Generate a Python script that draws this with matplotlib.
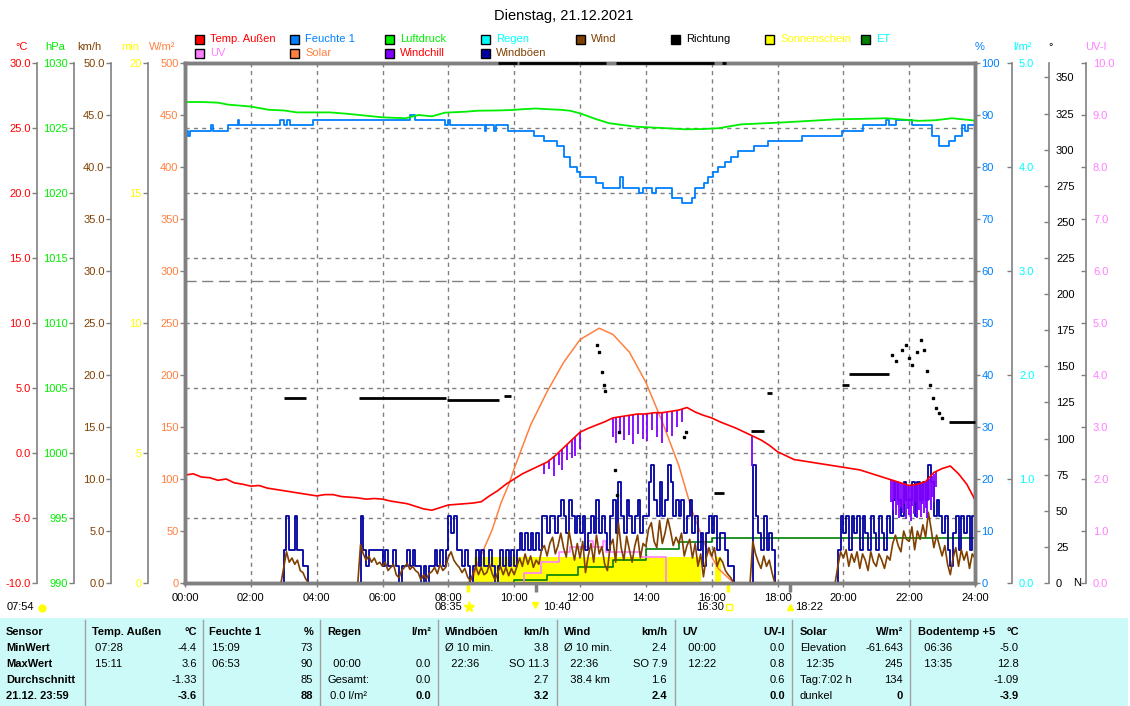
import numpy as np
import matplotlib
matplotlib.use('Agg')
import matplotlib.pyplot as plt
from matplotlib.patches import Rectangle
from matplotlib.lines import Line2D

plt.rcParams['font.family'] = ['Liberation Sans', 'DejaVu Sans']
plt.rcParams['font.size'] = 8

# data =========================================================================
title = 'Dienstag, 21.12.2021'
hour_ticks = list(range(0, 25, 2))
hour_labels = ['%02d:00' % h for h in hour_ticks]

# temperature, every 15 min (degC)
temp_t = np.arange(0, 24.01, 0.25)
temp = [-1.7, -1.6, -1.85, -1.9, -2.1, -2.0, -2.3, -2.4, -2.55, -2.5, -2.7, -2.8,
        -2.9, -3.0, -3.1, -3.2, -3.3, -3.2, -3.2, -3.35, -3.4, -3.45, -3.55, -3.5,
        -3.55, -3.7, -3.8, -3.9, -4.1, -4.3, -4.4, -4.2, -4.0, -3.95, -3.9, -3.85,
        -3.75, -3.3, -2.9, -2.4, -2.0, -1.6, -1.3, -1.0, -0.7, -0.2, 0.4, 1.0,
        1.6, 1.9, 2.15, 2.4, 2.7, 2.8, 2.9, 3.0, 3.0, 3.1, 3.1, 3.2,
        3.3, 3.5, 3.15, 2.9, 2.7, 2.4, 2.15, 1.9, 1.6, 1.3, 1.0, 0.6,
        0.1, -0.2, -0.5, -0.6, -0.7, -0.8, -0.9, -1.0, -1.1, -1.2, -1.3, -1.5,
        -1.7, -1.9, -2.1, -2.3, -2.5, -2.4, -2.2, -1.5, -1.2, -1.0, -1.6, -2.4,
        -3.6]

# windchill dips below temperature: time, windchill, temperature at that moment
wch_t = [10.9, 11.05, 11.2, 11.35, 11.45, 11.6, 11.75, 11.85, 12.0,
         13.0, 13.1, 13.2, 13.35, 13.5, 13.6, 13.75, 13.9, 14.05, 14.2, 14.35,
         14.5, 14.65, 14.8, 14.95, 15.1, 17.22,
         21.45, 21.5, 21.55, 21.6, 21.65, 21.7, 21.75, 21.8, 21.85, 21.9, 21.95, 22.0,
         22.05, 22.1, 22.15, 22.2, 22.25, 22.3, 22.35, 22.4, 22.45, 22.5, 22.55, 22.6,
         22.65, 22.7, 22.75, 22.8]
wch_lo = [-1.6, -1.2, -1.8, -0.9, -1.3, -0.5, -0.4, -0.2, 0.3,
          1.2, 0.8, 1.6, 1.0, 1.4, 0.7, 1.5, 1.1, 0.9, 1.8, 1.2,
          0.8, 1.6, 1.3, 2.0, 2.4, -1.0,
          -3.8, -4.4, -3.5, -4.8, -4.0, -5.0, -4.2, -4.6, -3.9, -5.1, -4.3, -4.8,
          -5.2, -4.1, -4.7, -3.8, -5.0, -4.4, -4.9, -3.9, -4.6, -4.2, -5.0, -3.6,
          -4.4, -3.4, -3.8, -2.6]
wch_hi = [-0.8, -0.6, -0.3, 0.0, 0.3, 0.6, 1.0, 1.2, 1.6,
          2.7, 2.75, 2.8, 2.85, 2.9, 2.95, 3.0, 3.0, 3.0, 3.1, 3.1,
          3.1, 3.15, 3.2, 3.3, 3.4, 1.3,
          -2.0, -2.1, -2.15, -2.2, -2.25, -2.3, -2.3, -2.35, -2.4, -2.45, -2.5, -2.5,
          -2.5, -2.45, -2.45, -2.4, -2.4, -2.35, -2.3, -2.3, -2.25, -2.2, -2.1, -2.0,
          -1.9, -1.75, -1.6, -1.45]

# humidity (%), step changes
hum_t = [0, 0.08, 0.15, 0.8, 0.85, 1.3, 1.6, 1.65, 2.9, 3.0, 3.1, 3.2, 3.9, 6.85, 7.0,
         7.9, 8.0, 8.05, 9.1, 9.15, 9.4, 9.45, 9.8, 10.6, 10.9, 11.3, 11.5, 11.7, 11.9, 12.0,
         12.5, 12.7, 13.2, 13.3, 13.8, 13.9, 14.2, 14.3, 14.8, 15.1, 15.4, 15.5, 15.77, 15.9,
         16.05, 16.2, 16.4, 16.6, 16.8, 17.3, 17.7, 18.75, 19.96, 20.6, 21.3, 21.4, 21.6,
         22.1, 22.7, 22.9, 23.2, 23.4, 23.6, 23.7, 23.8, 24.0]
hum = [87, 86, 87, 88, 87, 88, 89, 88, 89, 88, 89, 88, 89, 90, 89,
       88, 89, 88, 87, 88, 87, 88, 87, 86, 85, 84, 82, 80, 79, 78,
       77, 76, 78, 76, 75, 76, 75, 76, 74, 73, 74, 76, 77, 78,
       79, 80, 81, 82, 83, 84, 85, 86, 87, 88, 89, 88, 89,
       88, 86, 84, 85, 86, 88, 87, 88, 88]

# pressure (hPa)
pres_t = [0, 0.5, 1.0, 1.3, 2.0, 2.55, 3.0, 3.4, 4.4, 4.9, 5.5, 6.0, 6.7, 7.1, 7.5,
          7.9, 8.5, 8.9, 9.5, 9.9, 10.3, 10.65, 11.0, 11.4, 11.7, 12.0, 12.5, 12.9, 13.7, 14.5,
          15.2, 15.7, 16.2, 16.9, 17.5, 18.25, 19.0, 19.8, 20.5, 21.3, 22.3, 22.8, 23.3, 23.9, 24.0]
pres = [1027.0, 1027.0, 1026.95, 1026.8, 1026.65, 1026.4, 1026.35, 1026.2, 1026.2, 1026.1,
        1025.95, 1025.82, 1025.75, 1026.0, 1025.9, 1026.18, 1026.25, 1026.33, 1026.35, 1026.38,
        1026.45, 1026.5, 1026.45, 1026.4, 1026.33, 1026.13, 1025.67, 1025.36, 1025.1, 1025.0,
        1024.9, 1024.92, 1024.98, 1025.28, 1025.35, 1025.44, 1025.55, 1025.67, 1025.7, 1025.75,
        1025.55, 1025.6, 1025.75, 1025.6, 1025.55]
pres_std = 1013.25

# gusts and wind (km/h), every 5 min
wind_t = np.arange(0, 24.001, 5 / 60)
gust = ([0] * 36 +
        [3.2, 6.4, 3.2, 3.2, 6.4, 3.2, 3.2, 1.6, 1.6, 0, 0, 0] +
        [0] * 12 +
        [0, 0, 0, 0, 6.4, 3.2, 1.6, 3.2, 3.2, 3.2, 3.2, 3.2] +
        [1.6, 3.2, 1.6, 1.6, 3.2, 1.6, 0, 1.6, 1.6, 3.2, 1.6, 3.2] +
        [1.6, 1.6, 0, 1.6, 0, 1.6, 1.6, 3.2, 1.6, 3.2, 1.6, 3.2] +
        [6.4, 4.8, 6.4, 3.2, 3.2, 1.6, 3.2, 1.6, 0, 1.6, 3.2, 1.6] +
        [3.2, 1.6, 1.6, 3.2, 1.6, 0, 1.6, 3.2, 1.6, 3.2, 1.6, 3.2] +
        [1.6, 3.2, 4.8, 3.2, 4.8, 3.2, 4.8, 3.2, 4.8, 3.2, 6.4, 6.4] +
        [4.8, 6.4, 6.4, 4.8, 6.4, 8.0, 6.4, 4.8, 8.0, 6.4, 4.8, 6.4] +
        [4.8, 6.4, 3.2, 4.8, 6.4, 4.8, 8.0, 4.8, 6.4, 4.8, 3.2, 6.4] +
        [8.0, 4.8, 9.7, 6.4, 4.8, 8.0, 6.4, 4.8, 6.4, 8.0, 4.8, 6.4] +
        [6.4, 9.7, 11.3, 8.0, 6.4, 9.7, 6.4, 8.0, 11.3, 9.7, 6.4, 8.0] +
        [6.4, 8.0, 4.8, 6.4, 8.0, 4.8, 6.4, 3.2, 4.8, 1.6, 4.8, 6.4] +
        [4.8, 6.4, 3.2, 4.8, 4.8, 3.2, 1.6, 1.6, 0, 0, 0, 0] +
        [0, 0, 0, 11.3, 6.4, 4.8, 3.2, 6.4, 3.2, 4.8, 3.2, 0] +
        [0] * 12 +
        [0, 0, 0, 0, 0, 0, 0, 0, 0, 0, 3.2, 6.4] +
        [4.8, 6.4, 3.2, 6.4, 4.8, 6.4, 3.2, 6.4, 4.8, 3.2, 6.4, 4.8] +
        [3.2, 6.4, 4.8, 3.2, 6.4, 4.8, 8.0, 9.7, 8.0, 6.4, 9.7, 8.0] +
        [8.0, 9.7, 6.4, 9.7, 8.0, 9.7, 8.0, 11.3, 9.7, 6.4, 8.0, 6.4] +
        [4.8, 6.4, 3.2, 1.6, 4.8, 6.4, 3.2, 6.4, 4.8, 6.4, 3.2, 6.4] +
        [6.4])
wind = ([0] * 36 +
        [1.5, 3.0, 2.0, 2.4, 1.8, 2.2, 1.2, 1.0, 0.4, 0, 0, 0] +
        [0] * 12 +
        [0, 0, 0, 0, 3.7, 2.8, 2.2, 2.6, 2.0, 2.4, 1.8, 2.0] +
        [1.6, 2.0, 1.2, 1.5, 1.8, 0.8, 0.5, 1.2, 1.5, 1.9, 1.3, 1.6] +
        [1.2, 1.0, 0.3, 0.8, 0.4, 0.9, 1.1, 1.5, 0.9, 1.8, 1.2, 1.5] +
        [2.5, 3.0, 2.2, 1.8, 1.5, 1.0, 1.4, 0.6, 0.2, 0.9, 1.6, 0.8] +
        [1.5, 0.8, 1.0, 1.8, 0.9, 0.3, 1.0, 1.6, 0.8, 1.5, 0.7, 1.4] +
        [0.8, 1.6, 2.4, 1.6, 2.8, 1.8, 2.6, 1.5, 2.2, 1.8, 3.2, 3.6] +
        [2.6, 3.8, 4.4, 2.8, 3.6, 4.8, 3.4, 2.5, 5.0, 3.5, 2.2, 3.8] +
        [2.4, 4.0, 1.0, 2.6, 3.8, 2.0, 4.6, 2.8, 3.5, 1.8, 1.2, 3.6] +
        [4.2, 2.0, 5.8, 3.4, 2.2, 4.5, 3.2, 2.0, 3.6, 4.6, 2.4, 3.8] +
        [3.5, 5.2, 5.8, 4.0, 3.4, 6.0, 3.8, 4.8, 6.2, 5.0, 3.6, 4.4] +
        [3.8, 4.8, 2.6, 3.6, 4.2, 2.4, 3.8, 1.6, 2.8, 0.6, 2.4, 3.4] +
        [2.6, 3.4, 1.6, 2.4, 2.0, 1.2, 0.8, 0.5, 0, 0, 0, 0] +
        [0, 0, 0, 4.0, 2.8, 2.0, 1.4, 2.6, 1.6, 2.2, 1.0, 0] +
        [0] * 12 +
        [0, 0, 0, 0, 0, 0, 0, 0, 0, 0, 1.6, 3.0] +
        [2.4, 3.2, 1.6, 2.8, 2.0, 3.0, 1.4, 2.8, 2.2, 1.2, 3.0, 2.0] +
        [1.6, 2.8, 2.2, 1.4, 2.6, 2.2, 3.8, 4.6, 3.6, 3.0, 5.0, 4.2] +
        [4.0, 5.4, 3.2, 5.0, 4.2, 5.6, 4.4, 6.8, 5.2, 3.4, 4.6, 3.6] +
        [2.6, 3.6, 1.8, 0.8, 2.4, 3.4, 1.6, 3.2, 2.2, 3.0, 1.4, 2.8] +
        [2.4])

# solar radiation (W/m2)
solar_t = [8.58, 8.75, 8.93, 9.33, 9.6, 9.85, 10.0, 10.5, 11.0, 11.5, 12.0, 12.58,
           13.0, 13.5, 14.0, 14.5, 15.0, 15.4, 15.82, 16.2, 16.5, 16.7]
solar = [0, 5, 22, 51, 77, 96, 110, 152, 184, 212, 234, 245,
         239, 222, 193, 155, 113, 70, 35, 14, 5, 0]

# UV index (steps)
uv_t = [0, 10.3, 10.8, 11.35, 11.7, 12.25, 12.4, 12.7, 12.8, 13.85, 14.62, 24]
uv = [0, 0.2, 0.4, 0.6, 0.7, 0.8, 0.7, 0.8, 0.6, 0.5, 0.0, 0.0]

# evapotranspiration (l/m2, steps)
et_t = [0, 10.0, 11.0, 11.95, 13.0, 14.0, 15.0, 16.0, 24]
et = [0, 0.03, 0.08, 0.15, 0.22, 0.33, 0.39, 0.43, 0.43]

# sunshine (min)
sun_start = [8.78, 16.1]
sun_end = [15.68, 16.28]
sun_min = [1.0, 1.0]

# wind direction (deg)
dir_t0 = [3.0, 5.29, 7.96, 9.69, 9.5, 10.15, 11.97, 13.1, 16.3, 16.07, 17.2, 17.68, 19.95, 20.17, 23.2]
dir_t1 = [3.68, 7.93, 9.54, 9.9, 10.1, 11.97, 12.8, 16.07, 16.45, 16.37, 17.6, 17.83, 20.17, 21.4, 24.0]
dir_deg = [128, 128, 127, 129.5, 360, 360, 360, 360, 360, 62, 105, 131.5, 137, 145, 111.5]
dot_t = [12.52, 12.58, 12.67, 12.73, 12.76, 13.06, 13.12, 13.18, 15.16, 15.22, 21.47, 21.6,
         21.78, 21.9, 22.0, 22.08, 22.24, 22.36, 22.45, 22.55, 22.64, 22.73, 22.82, 22.9, 23.0]
dot_deg = [165, 160, 146, 137, 133, 78, 61, 104.5, 101, 104.5, 158, 154,
           161, 165, 156, 151, 160, 168, 161, 147, 137, 128, 121, 118, 114]

# sun / moon events
ev_t = [8.583, 10.667, 16.5, 18.367]
ev_col = ['#ffff00', '#808080', '#ffff00', '#808080']

# table
tab_head = [('Sensor', ''), ('Temp. Außen', '°C'), ('Feuchte 1', '%'), ('Regen', 'l/m²'),
            ('Windböen', 'km/h'), ('Wind', 'km/h'), ('UV', 'UV-I'), ('Solar', 'W/m²'),
            ('Bodentemp +5', '°C')]
tab_rows = ['MinWert', 'MaxWert', 'Durchschnitt', '21.12. 23:59']
tab_cells = [
    [(' 07:28', '-4.4'), (' 15:11', '3.6'), ('', '-1.33'), ('', '-3.6')],
    [(' 15:09', '73'), (' 06:53', '90'), ('', '85'), ('', '88')],
    [('', ''), ('  00:00', '0.0'), ('Gesamt:', '0.0'), (' 0.0 l/m²', '0.0')],
    [('Ø 10 min.', '3.8'), ('  22:36', 'SO 11.3'), ('', '2.7'), ('', '3.2')],
    [('Ø 10 min.', '2.4'), ('  22:36', 'SO 7.9'), ('  38.4 km', '1.6'), ('', '2.4')],
    [('  00:00', '0.0'), ('  12:22', '0.8'), ('', '0.6'), ('', '0.0')],
    [('Elevation', '-61.643'), ('  12:35', '245'), ('Tag:7:02 h', '134'), ('dunkel', '0')],
    [('  06:36', '-5.0'), ('  13:35', '12.8'), ('', '-1.09'), ('', '-3.9')],
]

# colours ======================================================================
GRAY = '#808080'
C_TEMP, C_HUM, C_PRES, C_RAIN = '#ff0000', '#0080ff', '#00ee00', '#00ffff'
C_WIND, C_DIR, C_SUN, C_ET = '#804000', '#000000', '#ffff00', '#008000'
C_UV, C_SOLAR, C_WCH, C_GUST = '#ff80ff', '#ff8040', '#8000ff', '#0000a0'

# layout =======================================================================
W, H = 1130, 706
L, R, T, B = 185, 975, 63, 583


def fx(x):
    return x / W


def fy(y):
    return 1 - y / H


fig = plt.figure(figsize=(W / 100, H / 100), dpi=100)
ax = fig.add_axes([fx(L), fy(B), (R - L) / W, (B - T) / H])
ax.set_xlim(0, 24)
ax.set_ylim(0, 500)
ax.set_xticks(hour_ticks, hour_labels)
ax.set_yticks(range(0, 501, 50), [str(v) for v in range(0, 501, 50)])
ax.tick_params(axis='y', direction='out', length=3.6, width=1, color=GRAY,
               labelcolor=C_SOLAR, pad=1)
ax.tick_params(axis='x', direction='out', length=3, width=1, color=GRAY, pad=4)
for s in ax.spines.values():
    s.set_color(GRAY)
    s.set_linewidth(2.5)
for h in hour_ticks[1:-1]:
    ax.axvline(h, color=GRAY, lw=1, ls=(0, (3, 3)), zorder=0)
for k in range(1, 8):
    ax.axhline(500 * k / 8, color=GRAY, lw=1, ls=(0, (3, 3)), zorder=0)
top = ax.secondary_xaxis('top')
top.set_xticks(hour_ticks)
top.tick_params(direction='in', length=3, color=GRAY, labeltop=False)
top.spines['top'].set_visible(False)


def make_scale(side, x_px, lim, ticks, labels, color, tdir='out', pad=1):
    a = ax.twinx()
    for s in a.spines.values():
        s.set_visible(False)
    sp = a.spines[side]
    sp.set_visible(True)
    sp.set_position(('axes', (x_px - L) / (R - L)))
    sp.set_color(GRAY)
    sp.set_linewidth(1.2)
    if side == 'left':
        a.yaxis.tick_left()
    else:
        a.yaxis.tick_right()
    a.set_ylim(lim)
    a.set_yticks(ticks, labels)
    a.tick_params(axis='y', direction=tdir, length=3.6, width=1, color=GRAY,
                  labelcolor=color, pad=pad)
    return a


def hidden(lim):
    a = ax.twinx()
    a.set_ylim(lim)
    a.axis('off')
    return a


# sunshine (min)
a_min = make_scale('left', 148, (0, 20), [0, 5, 10, 15, 20], ['0', '5', '10', '15', '20'], C_SUN)
a_min.bar(sun_start, sun_min, width=np.array(sun_end) - np.array(sun_start),
          align='edge', color=C_SUN, lw=0)

# rain / ET (l/m2)
a_rain = make_scale('right', 1012, (0, 5), [0, 1, 2, 3, 4, 5],
                    ['0.0', '1.0', '2.0', '3.0', '4.0', '5.0'], C_RAIN, tdir='in', pad=5)
a_rain.plot(et_t, et, drawstyle='steps-post', color=C_ET, lw=1.2)

# UV
a_uv = make_scale('right', 1086, (0, 10), range(0, 11),
                  ['%.1f' % v for v in range(0, 11)], C_UV, tdir='in', pad=5)
a_uv.plot(uv_t, uv, drawstyle='steps-post', color=C_UV, lw=1.2)

# solar on W/m2 scale
a_sol = hidden((0, 500))
a_sol.plot(solar_t, solar, color=C_SOLAR, lw=1.1)

# humidity
a_hum = make_scale('right', 975, (0, 100), range(0, 101, 10),
                   [str(v) for v in range(0, 101, 10)], C_HUM, pad=1)
a_hum.plot(hum_t, hum, drawstyle='steps-post', color=C_HUM, lw=1.3)

# pressure
a_pres = make_scale('left', 74, (990, 1030), range(990, 1031, 5),
                    [str(v) for v in range(990, 1031, 5)], C_PRES)
a_pres.axhline(pres_std, color=GRAY, lw=1, ls=(0, (8, 4)))
a_pres.plot(pres_t, pres, color=C_PRES, lw=1.3)

# wind
a_wind = make_scale('left', 111, (0, 50), range(0, 51, 5),
                    ['%.1f' % v for v in range(0, 51, 5)], C_WIND)
a_wind.plot(wind_t, gust, drawstyle='steps-post', color=C_GUST, lw=1.3)
a_wind.plot(wind_t, wind, color=C_WIND, lw=1.2)

# temperature / windchill
a_temp = make_scale('left', 37, (-10, 30), range(-10, 31, 5),
                    ['%.1f' % v for v in range(-10, 31, 5)], C_TEMP)
a_temp.vlines(wch_t, wch_lo, wch_hi, color=C_WCH, lw=1.3)
a_temp.plot(temp_t, temp, color=C_TEMP, lw=1.2)

# frame over everything
frame = ax.twinx()
frame.set_yticks([])
frame.set_ylim(0, 1)
for s in frame.spines.values():
    s.set_color(GRAY)
    s.set_linewidth(2.5)

# direction
a_dir = make_scale('right', 1049, (0, 360), range(0, 351, 25),
                   [str(v) for v in range(0, 351, 25)], C_DIR, tdir='in', pad=5)
a_dir.hlines(dir_deg, dir_t0, dir_t1, color=C_DIR, lw=2, clip_on=False)
a_dir.plot(dot_t, dot_deg, 's', ms=1.6, color=C_DIR)
fig.text(fx(1077), fy(583), 'N', ha='center', va='center', color='black')

# event markers below the axis
for t, c in zip(ev_t, ev_col):
    ax.plot([t, t], [0, -0.018], transform=ax.get_xaxis_transform(), color=c,
            lw=2.5, clip_on=False, solid_capstyle='butt')


def icon(x, y, marker, fc, ec=None, ms=5):
    fig.add_artist(Line2D([fx(x)], [fy(y)], marker=marker, ms=ms, mfc=fc,
                          mec=ec or fc, transform=fig.transFigure))


fig.text(fx(7), fy(607), '07:54', ha='left', va='center')
icon(42, 608, 'o', C_SUN, ms=5)
fig.text(fx(462), fy(607), '08:35', ha='right', va='center')
icon(469, 607, '*', C_SUN, ms=8)
fig.text(fx(543), fy(607), '10:40', ha='left', va='center')
icon(535, 605, 'v', C_SUN, ms=5)
fig.text(fx(724), fy(607), '16:30', ha='right', va='center')
icon(729, 607, 's', 'none', C_SUN, ms=5)
fig.text(fx(795), fy(607), '18:22', ha='left', va='center')
icon(790, 607, '^', C_SUN, ms=5)

# titles and units
fig.text(fx(564), fy(16), title, ha='center', va='center', fontsize=10.5)
units = [('°C', 22, C_TEMP), ('hPa', 55, C_PRES), ('km/h', 89, C_WIND), ('min', 130, C_SUN),
         ('W/m²', 162, C_SOLAR), ('%', 980, C_HUM), ('l/m²', 1022, C_RAIN),
         ('°', 1051, C_DIR), ('UV-I', 1096, C_UV)]
for txt, x, c in units:
    fig.text(fx(x), fy(47), txt, ha='center', va='center', color=c)

# legend
legend = [('Temp. Außen', C_TEMP, C_TEMP, 195, 39), ('Feuchte 1', C_HUM, C_HUM, 290, 39),
          ('Luftdruck', C_PRES, C_PRES, 385, 39), ('Regen', C_RAIN, C_RAIN, 481, 39),
          ('Wind', C_WIND, C_WIND, 576, 39), ('Richtung', C_DIR, C_DIR, 671, 39),
          ('Sonnenschein', C_SUN, C_SUN, 765, 39), ('ET', C_ET, C_RAIN, 861, 39),
          ('UV', C_UV, C_UV, 195, 53), ('Solar', C_SOLAR, C_SOLAR, 290, 53),
          ('Windchill', C_WCH, C_TEMP, 385, 53), ('Windböen', C_GUST, C_WIND, 481, 53)]
for txt, fc, tc, x, y in legend:
    fig.add_artist(Rectangle((fx(x), fy(y + 4.5)), 9 / W, 9 / H, transform=fig.transFigure,
                             fc=fc, ec='black', lw=1))
    fig.text(fx(x + 15), fy(y), txt, ha='left', va='center', color=tc)

# table
fig.add_artist(Rectangle((0, 0), fx(1128), fy(618), transform=fig.transFigure,
                         fc='#ccfaf8', ec='none'))
col_div = [85, 203, 320, 438, 557, 675, 792, 910]
for x in col_div:
    fig.add_artist(Line2D([fx(x), fx(x)], [fy(620), 0], color='#a0a0a0', lw=1,
                          transform=fig.transFigure))
col_left = [6, 92, 209, 327, 445, 564, 682, 800, 918]
col_right = [None, 197, 313, 431, 549, 667, 785, 903, 1019]
row_y = [632, 648, 664, 680, 696]
for i, (head, unit) in enumerate(tab_head):
    fig.text(fx(col_left[i]), fy(row_y[0]), head, ha='left', va='center', fontweight='bold')
    if unit:
        fig.text(fx(col_right[i]), fy(row_y[0]), unit, ha='right', va='center',
                 fontweight='bold')
for j, name in enumerate(tab_rows):
    fig.text(fx(col_left[0]), fy(row_y[j + 1]), name, ha='left', va='center',
             fontweight='bold')
for i, cells in enumerate(tab_cells):
    for j, (lt, rt) in enumerate(cells):
        y = fy(row_y[j + 1])
        fig.text(fx(col_left[i + 1]), y, lt, ha='left', va='center')
        fig.text(fx(col_right[i + 1]), y, rt, ha='right', va='center',
                 fontweight='bold' if j == 3 else 'normal')

fig.savefig('out.png', dpi=100)
